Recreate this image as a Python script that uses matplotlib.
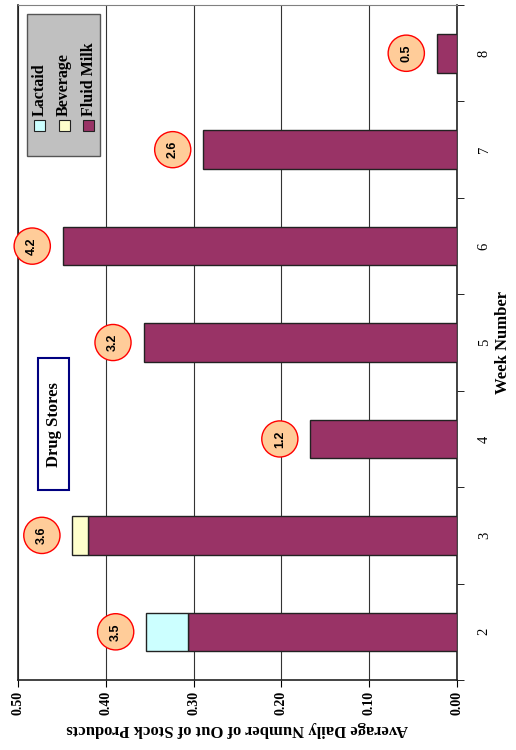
import matplotlib
matplotlib.use("Agg")
import matplotlib.pyplot as plt
from matplotlib.patches import Rectangle
import numpy as np

# values
weeks = ['2', '3', '4', '5', '6', '7', '8']
fluid_milk = [0.306, 0.420, 0.167, 0.357, 0.449, 0.289, 0.023]
lactaid = [0.048, 0.0, 0.0, 0.0, 0.0, 0.0, 0.0]
beverage = [0.0, 0.018, 0.0, 0.0, 0.0, 0.0, 0.0]
circle_labels = ['3.5', '3.6', '1.2', '3.2', '4.2', '2.6', '0.5']
value_ticks = [0.0, 0.1, 0.2, 0.3, 0.4, 0.5]

plt.rcParams['font.family'] = ['Liberation Serif', 'DejaVu Serif']

c_milk = '#993366'
c_lact = '#CCFFFF'
c_bev = '#FFFFCC'

fig = plt.figure(figsize=(5.16, 7.5), dpi=100)
ax = fig.add_axes([0.0349, 0.0933, 0.8508, 0.9])

pos = np.arange(len(weeks))
h = 0.4
milk = np.array(fluid_milk)
lact = np.array(lactaid)
bev = np.array(beverage)

ax.barh(pos, milk, height=h, color=c_milk, edgecolor='#222222', lw=1, zorder=3)
ax.barh(pos, lact, left=milk, height=h, color=c_lact, edgecolor='#222222', lw=1, zorder=3)
ax.barh(pos, bev, left=milk + lact, height=h, color=c_bev, edgecolor='#222222', lw=1, zorder=3)

# hide zero-width segments' edges
for p in ax.patches:
    if p.get_width() == 0:
        p.set_visible(False)

totals = milk + lact + bev
for i, lab in enumerate(circle_labels):
    ax.annotate(lab, (totals[i], pos[i]), xytext=(-22, 0), textcoords='offset points',
                ha='center', va='center', rotation=90, fontsize=9, fontweight='bold',
                family='Liberation Sans', zorder=5,
                bbox=dict(boxstyle='circle,pad=0.75', fc='#FFCC99', ec='red', lw=1))

ax.set_xlim(0.5, 0.0)
ax.set_ylim(-0.5, len(weeks) - 0.5)

ax.set_xticks(value_ticks)
ax.set_xticklabels([f'{v:.2f}' for v in value_ticks], rotation=90, fontweight='bold', fontsize=10)
ax.tick_params(axis='x', direction='out', length=5, pad=3)
ax.xaxis.grid(True, color='#333333', lw=0.8, zorder=0)

ax.yaxis.tick_right()
ax.yaxis.set_label_position('right')
ax.set_yticks(pos)
ax.set_yticklabels(weeks, rotation=90, va='center', fontsize=10.5)
ax.set_yticks(np.arange(-0.5, len(weeks), 1), minor=True)
ax.tick_params(axis='y', which='major', length=0, pad=15)
ax.tick_params(axis='y', which='minor', direction='out', length=5, right=True, left=False)

ax.set_ylabel('Week Number', rotation=90, fontsize=12, fontweight='bold', labelpad=3)
ax.set_xlabel('Average Daily Number of Out of Stock Products', rotation=180,
              fontsize=12, fontweight='bold', labelpad=4)

for s in ['right', 'bottom', 'left']:
    ax.spines[s].set_color('#222222')
    ax.spines[s].set_linewidth(1.2)
ax.spines['top'].set_color('#808080')

# legend drawn in axes coordinates
ax.add_patch(Rectangle((0.0205, 0.776), 0.1665, 0.211, transform=ax.transAxes,
                       fc='#C0C0C0', ec='#555555', lw=1, zorder=6))
leg_names = ['Lactaid', 'Beverage', 'Fluid Milk']
leg_cols = [c_lact, c_bev, c_milk]
leg_x = [0.050, 0.105, 0.161]
for nm, col, lx in zip(leg_names, leg_cols, leg_x):
    ax.add_patch(Rectangle((lx - 0.0125, 0.813), 0.025, 0.016, transform=ax.transAxes,
                           fc=col, ec='#222222', lw=0.8, zorder=7))
    ax.text(lx, 0.836, nm, transform=ax.transAxes, rotation=90, ha='center', va='bottom',
            fontsize=11.5, fontweight='bold', zorder=7)

# "Drug Stores" box
ax.add_patch(Rectangle((0.0456, 0.281), 0.0706, 0.196, transform=ax.transAxes,
                       fc='white', ec='#000080', lw=1.5, zorder=6))
ax.text(0.0809, 0.379, 'Drug Stores', transform=ax.transAxes, rotation=90,
        ha='center', va='center', fontsize=12, fontweight='bold', zorder=7)

fig.savefig('out.png', dpi=100)
